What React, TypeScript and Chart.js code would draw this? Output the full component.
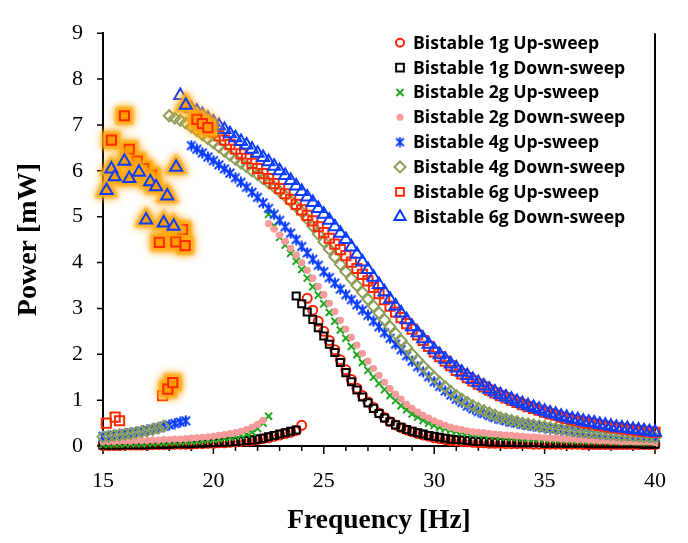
import React, { useEffect, useRef } from 'react';
import { Chart, registerables } from 'chart.js';
import { drawPoint } from 'chart.js/helpers';

Chart.register(...registerables);

const _ = null;

const SERIES_LABELS = [
  'Bistable 1g Up-sweep',
  'Bistable 1g Down-sweep',
  'Bistable 2g Up-sweep',
  'Bistable 2g Down-sweep',
  'Bistable 4g Up-sweep',
  'Bistable 4g Down-sweep',
  'Bistable 6g Up-sweep',
  'Bistable 6g Down-sweep',
];

const X_TICK_LABELS = [15, 20, 25, 30, 35, 40];
const Y_TICK_LABELS = [0, 1, 2, 3, 4, 5, 6, 7, 8, 9];

// Low-power branch frequencies (Hz)
const FREQ_LOW = [
  15, 15.25, 15.5, 15.75, 16, 16.25, 16.5, 16.75, 17, 17.25, 17.5, 17.75,
  18, 18.25, 18.5, 18.75, 19, 19.25, 19.5, 19.75, 20, 20.25, 20.5, 20.75,
  21, 21.25, 21.5, 21.75, 22, 22.25, 22.5, 22.75, 23, 23.25, 23.5, 23.75, 24,
];

// High-power branch frequencies (Hz)
const FREQ_HIGH = [
  18, 18.25, 18.5, 18.75, 19, 19.25, 19.5, 19.75, 20, 20.25, 20.5, 20.75,
  21, 21.25, 21.5, 21.75, 22, 22.25, 22.5, 22.75, 23, 23.25, 23.5, 23.75,
  24, 24.25, 24.5, 24.75, 25, 25.25, 25.5, 25.75, 26, 26.25, 26.5, 26.75,
  27, 27.25, 27.5, 27.75, 28, 28.25, 28.5, 28.75, 29, 29.25, 29.5, 29.75,
  30, 30.25, 30.5, 30.75, 31, 31.25, 31.5, 31.75, 32, 32.25, 32.5, 32.75,
  33, 33.25, 33.5, 33.75, 34, 34.25, 34.5, 34.75, 35, 35.25, 35.5, 35.75,
  36, 36.25, 36.5, 36.75, 37, 37.25, 37.5, 37.75, 38, 38.25, 38.5, 38.75,
  39, 39.25, 39.5, 39.75, 40,
];

// ---- Low branches (mW), aligned with FREQ_LOW
const P_1G_UP_LOW = [
  0.01, 0.01, 0.01, 0.01, 0.02, 0.02, 0.02, 0.02, 0.02, 0.03, 0.03, 0.03,
  0.03, 0.04, 0.04, 0.04, 0.04, 0.05, 0.05, 0.06, 0.06, 0.07, 0.07, 0.08,
  0.09, 0.1, 0.11, 0.12, 0.14, 0.16, 0.18, 0.21, 0.24, 0.27, 0.3, 0.34, 0.45,
];
const P_1G_DOWN_LOW = [
  0.02, 0.02, 0.02, 0.02, 0.03, 0.03, 0.03, 0.03, 0.03, 0.04, 0.04, 0.04,
  0.04, 0.05, 0.05, 0.05, 0.05, 0.06, 0.06, 0.07, 0.07, 0.08, 0.08, 0.09,
  0.1, 0.11, 0.12, 0.13, 0.15, 0.17, 0.2, 0.23, 0.26, 0.29, 0.32, 0.35, _,
];
const P_2G_UP_LOW = [
  0.03, 0.03, 0.04, 0.04, 0.04, 0.05, 0.05, 0.05, 0.06, 0.06, 0.07, 0.07,
  0.08, 0.08, 0.09, 0.1, 0.1, 0.11, 0.12, 0.13, 0.14, 0.15, 0.17, 0.19,
  0.21, 0.23, 0.26, 0.3, 0.38, 0.5, 0.65, _, _, _, _, _, _,
];
const P_2G_DOWN_LOW = [
  0.1, 0.1, 0.1, 0.11, 0.11, 0.11, 0.12, 0.12, 0.12, 0.13, 0.13, 0.14,
  0.14, 0.15, 0.15, 0.16, 0.17, 0.18, 0.19, 0.2, 0.21, 0.23, 0.25, 0.27,
  0.29, 0.32, 0.36, 0.41, 0.47, 0.56, _, _, _, _, _, _, _,
];
const P_4G_UP_LOW = [
  0.21, 0.22, 0.24, 0.25, 0.27, 0.29, 0.3, 0.32, 0.35, 0.37, 0.4, 0.43,
  0.46, 0.49, 0.52, 0.55, _, _, _, _, _, _, _, _,
  _, _, _, _, _, _, _, _, _, _, _, _, _,
];
const P_4G_DOWN_LOW = [
  0.2, 0.21, 0.23, 0.24, 0.26, 0.27, 0.29, 0.31, 0.33, 0.36, 0.39, 0.43,
  _, _, _, _, _, _, _, _, _, _, _, _,
  _, _, _, _, _, _, _, _, _, _, _, _, _,
];

// ---- High branches (mW), aligned with FREQ_HIGH
const P_1G_UP_HIGH = [
  _, _, _, _, _, _, _, _, _, _, _, _,
  _, _, _, _, _, _, _, _, _, _, _, _,
  _, 3.22, 2.96, 2.72, 2.5, 2.3, 2.1, 1.88, 1.66, 1.45, 1.26, 1.1,
  0.96, 0.84, 0.72, 0.62, 0.53, 0.46, 0.4, 0.35, 0.31, 0.27, 0.24, 0.21,
  0.18, 0.16, 0.14, 0.12, 0.11, 0.1, 0.09, 0.08, 0.07, 0.07, 0.06, 0.06,
  0.06, 0.05, 0.05, 0.05, 0.05, 0.05, 0.04, 0.04, 0.04, 0.04, 0.04, 0.04,
  0.04, 0.04, 0.04, 0.03, 0.03, 0.03, 0.03, 0.03, 0.03, 0.03, 0.03, 0.03,
  0.03, 0.03, 0.03, 0.03, 0.03,
];
const P_1G_DOWN_HIGH = [
  _, _, _, _, _, _, _, _, _, _, _, _,
  _, _, _, _, _, _, _, _, _, _, _, 3.27,
  3.1, 2.92, 2.76, 2.58, 2.4, 2.22, 2.04, 1.82, 1.6, 1.4, 1.22, 1.07,
  0.94, 0.82, 0.71, 0.61, 0.53, 0.46, 0.41, 0.36, 0.32, 0.29, 0.26, 0.23,
  0.21, 0.19, 0.17, 0.15, 0.14, 0.13, 0.12, 0.11, 0.1, 0.1, 0.09, 0.09,
  0.08, 0.08, 0.08, 0.07, 0.07, 0.07, 0.07, 0.07, 0.06, 0.06, 0.06, 0.06,
  0.06, 0.06, 0.06, 0.06, 0.05, 0.05, 0.05, 0.05, 0.05, 0.05, 0.05, 0.05,
  0.05, 0.05, 0.04, 0.04, 0.04,
];
const P_2G_UP_HIGH = [
  _, _, _, _, _, _, _, _, _, _, _, _,
  _, _, _, _, _, _, 5.05, 4.8, 4.55, 4.38, 4.2, 4.03,
  3.85, 3.66, 3.47, 3.29, 3.1, 2.91, 2.72, 2.53, 2.35, 2.17, 1.99, 1.82,
  1.65, 1.5, 1.36, 1.23, 1.1, 0.99, 0.88, 0.79, 0.7, 0.63, 0.56, 0.5,
  0.45, 0.41, 0.38, 0.35, 0.32, 0.3, 0.28, 0.26, 0.25, 0.24, 0.22, 0.21,
  0.2, 0.19, 0.18, 0.18, 0.17, 0.16, 0.16, 0.15, 0.15, 0.14, 0.14, 0.13,
  0.13, 0.12, 0.12, 0.11, 0.11, 0.11, 0.1, 0.1, 0.1, 0.09, 0.09, 0.09,
  0.09, 0.08, 0.08, 0.08, 0.08,
];
const P_2G_DOWN_HIGH = [
  _, _, _, _, _, _, _, _, _, _, _, _,
  _, _, _, _, _, _, 4.85, 4.73, 4.6, 4.46, 4.31, 4.16,
  4.0, 3.83, 3.66, 3.48, 3.3, 3.11, 2.93, 2.74, 2.55, 2.37, 2.2, 2.02,
  1.85, 1.69, 1.54, 1.39, 1.25, 1.13, 1.02, 0.91, 0.82, 0.74, 0.67, 0.61,
  0.55, 0.5, 0.45, 0.41, 0.38, 0.36, 0.33, 0.31, 0.3, 0.29, 0.27, 0.26,
  0.25, 0.24, 0.23, 0.22, 0.21, 0.2, 0.2, 0.19, 0.18, 0.17, 0.17, 0.16,
  0.15, 0.15, 0.14, 0.14, 0.13, 0.13, 0.12, 0.12, 0.11, 0.11, 0.1, 0.1,
  0.1, 0.09, 0.09, 0.09, 0.08,
];
const P_4G_UP_HIGH = [
  _, _, _, _, 6.55, 6.47, 6.39, 6.3, 6.22, 6.13, 6.04, 5.95,
  5.85, 5.75, 5.64, 5.53, 5.42, 5.3, 5.18, 5.05, 4.92, 4.78, 4.64, 4.5,
  4.35, 4.21, 4.07, 3.94, 3.8, 3.67, 3.55, 3.42, 3.3, 3.19, 3.08, 2.96,
  2.85, 2.72, 2.6, 2.47, 2.35, 2.22, 2.1, 1.97, 1.85, 1.73, 1.62, 1.51,
  1.4, 1.3, 1.2, 1.11, 1.02, 0.95, 0.87, 0.81, 0.75, 0.71, 0.66, 0.62,
  0.58, 0.55, 0.52, 0.5, 0.47, 0.45, 0.43, 0.42, 0.4, 0.38, 0.37, 0.35,
  0.34, 0.33, 0.31, 0.3, 0.29, 0.28, 0.27, 0.26, 0.25, 0.24, 0.23, 0.23,
  0.22, 0.21, 0.2, 0.2, 0.19,
];
const P_4G_DOWN_HIGH = [
  7.2, 7.15, 7.1, 7.04, 6.96, 6.88, 6.79, 6.7, 6.61, 6.52, 6.43, 6.34,
  6.25, 6.17, 6.09, 6.0, 5.92, 5.83, 5.74, 5.65, 5.55, 5.45, 5.34, 5.22,
  5.1, 4.95, 4.79, 4.62, 4.45, 4.29, 4.12, 3.96, 3.8, 3.65, 3.5, 3.35,
  3.2, 3.05, 2.9, 2.75, 2.6, 2.45, 2.3, 2.15, 2.0, 1.87, 1.74, 1.62,
  1.5, 1.39, 1.29, 1.19, 1.1, 1.02, 0.95, 0.88, 0.82, 0.77, 0.72, 0.67,
  0.62, 0.59, 0.56, 0.53, 0.5, 0.48, 0.46, 0.44, 0.42, 0.4, 0.38, 0.37,
  0.35, 0.34, 0.33, 0.31, 0.3, 0.29, 0.27, 0.26, 0.25, 0.24, 0.23, 0.23,
  0.22, 0.21, 0.2, 0.2, 0.19,
];
const P_6G_UP_HIGH = [
  _, _, _, _, _, _, _, _, 6.84, 6.76, 6.67, 6.57,
  6.47, 6.37, 6.27, 6.16, 6.05, 5.94, 5.83, 5.72, 5.61, 5.5, 5.38, 5.27,
  5.15, 5.03, 4.91, 4.78, 4.65, 4.53, 4.4, 4.28, 4.15, 4.01, 3.87, 3.74,
  3.6, 3.46, 3.32, 3.19, 3.05, 2.92, 2.8, 2.67, 2.55, 2.42, 2.3, 2.17,
  2.05, 1.95, 1.85, 1.75, 1.65, 1.57, 1.49, 1.42, 1.35, 1.29, 1.22, 1.16,
  1.1, 1.05, 1.0, 0.95, 0.9, 0.86, 0.82, 0.78, 0.74, 0.7, 0.67, 0.63,
  0.6, 0.57, 0.55, 0.52, 0.5, 0.48, 0.45, 0.43, 0.41, 0.4, 0.38, 0.36,
  0.35, 0.33, 0.32, 0.31, 0.3,
];
const P_6G_DOWN_HIGH = [
  _, _, 7.64, _, 7.36, 7.3, 7.22, 7.14, 7.06, 6.98, 6.9, 6.81,
  6.72, 6.64, 6.56, 6.47, 6.38, 6.29, 6.2, 6.1, 6.0, 5.9, 5.79, 5.67,
  5.55, 5.43, 5.31, 5.18, 5.05, 4.92, 4.78, 4.64, 4.5, 4.34, 4.18, 4.01,
  3.85, 3.68, 3.52, 3.36, 3.2, 3.05, 2.9, 2.75, 2.6, 2.47, 2.34, 2.22,
  2.1, 1.99, 1.89, 1.79, 1.7, 1.61, 1.53, 1.45, 1.38, 1.31, 1.24, 1.18,
  1.12, 1.07, 1.02, 0.97, 0.92, 0.88, 0.84, 0.8, 0.76, 0.72, 0.69, 0.65,
  0.62, 0.59, 0.57, 0.54, 0.52, 0.5, 0.47, 0.45, 0.43, 0.41, 0.39, 0.38,
  0.36, 0.35, 0.33, 0.31, 0.3,
];

// ---- Scattered 6g points
const F_6G_UP_EXTRA = [15.15, 15.55, 15.75, 17.7];
const P_6G_UP_EXTRA = [0.5, 0.63, 0.55, 1.1];

const F_6G_UP_GLOW = [15.38, 15.97, 16.19, 16.55, 16.85, 17.2, 17.55, 18.3, 18.6, 18.72, 17.94, 18.16, 19.25, 19.5, 19.75];
const P_6G_UP_GLOW = [6.67, 7.2, 6.47, 6.21, 6.05, 5.9, 4.44, 4.45, 4.72, 4.37, 1.24, 1.38, 7.12, 7.03, 6.94];

const F_6G_DOWN_GLOW = [15.16, 15.38, 15.53, 15.97, 16.19, 16.63, 16.95, 17.14, 17.4, 17.75, 17.91, 18.2, 18.31, 18.75];
const P_6G_DOWN_GLOW = [5.57, 6.04, 5.87, 6.21, 5.83, 5.97, 4.93, 5.76, 5.65, 4.86, 5.45, 4.79, 6.08, 7.43];

const C_RED = '#FF2200';
const C_BLACK = '#000000';
const C_GREEN = '#1EA81E';
const C_PINK = '#F79A9A';
const C_BLUE = '#0A3CFF';
const C_OLIVE = '#8C9F58';
const C_RED2 = '#FF2A00';
const C_ORANGE = '#FF9D00';
const C_HALO = 'rgba(255,170,20,0.85)';
const NONE = 'rgba(0,0,0,0)';

function pts(fs: number[], ps: (number | null)[]) {
  const out: { x: number; y: number }[] = [];
  for (let i = 0; i < fs.length; i++) {
    const p = ps[i];
    if (p !== null && p !== undefined) out.push({ x: fs[i], y: p });
  }
  return out;
}

function makeAsterisk(size: number, color: string, lw: number) {
  const c = document.createElement('canvas');
  c.width = size;
  c.height = size;
  const g = c.getContext('2d')!;
  g.strokeStyle = color;
  g.lineWidth = lw;
  const m = size / 2;
  const r = size / 2 - 0.5;
  const d = r * 0.78;
  g.beginPath();
  g.moveTo(m, m - r);
  g.lineTo(m, m + r);
  g.moveTo(m - d, m - d);
  g.lineTo(m + d, m + d);
  g.moveTo(m - d, m + d);
  g.lineTo(m + d, m - d);
  g.stroke();
  return c;
}

const SERIF = '"Liberation Serif", "Times New Roman", serif';

export default function App() {
  const ref = useRef<HTMLCanvasElement>(null);

  useEffect(() => {
    document.body.style.margin = '0';
    const canvas = ref.current!;
    const star = makeAsterisk(12, C_BLUE, 2);
    const starLegend = makeAsterisk(11, C_BLUE, 2);

    const base = { showLine: false, clip: false as any };
    const upGlow = pts(F_6G_UP_GLOW, P_6G_UP_GLOW);
    const downGlow = pts(F_6G_DOWN_GLOW, P_6G_DOWN_GLOW);
    const datasets: any[] = [
      { ...base, label: SERIES_LABELS[0], data: [...pts(FREQ_LOW, P_1G_UP_LOW), ...pts(FREQ_HIGH, P_1G_UP_HIGH)],
        pointStyle: 'circle', pointRadius: 4.5, pointBorderWidth: 2, pointBorderColor: C_RED, pointBackgroundColor: NONE,
        borderColor: C_RED, backgroundColor: NONE, legendR: 4, order: 18 },
      { ...base, label: SERIES_LABELS[1], data: [...pts(FREQ_LOW, P_1G_DOWN_LOW), ...pts(FREQ_HIGH, P_1G_DOWN_HIGH)],
        pointStyle: 'rect', pointRadius: 5, pointBorderWidth: 2, pointBorderColor: C_BLACK, pointBackgroundColor: NONE,
        borderColor: C_BLACK, backgroundColor: NONE, legendR: 5.5, order: 17 },
      { ...base, label: SERIES_LABELS[2], data: [...pts(FREQ_LOW, P_2G_UP_LOW), ...pts(FREQ_HIGH, P_2G_UP_HIGH)],
        pointStyle: 'crossRot', pointRadius: 5, pointBorderWidth: 2, pointBorderColor: C_GREEN, pointBackgroundColor: NONE,
        borderColor: C_GREEN, backgroundColor: NONE, legendR: 5, order: 16 },
      { ...base, label: SERIES_LABELS[3], data: [...pts(FREQ_LOW, P_2G_DOWN_LOW), ...pts(FREQ_HIGH, P_2G_DOWN_HIGH)],
        pointStyle: 'circle', pointRadius: 3.6, pointBorderWidth: 0, pointBorderColor: C_PINK, pointBackgroundColor: C_PINK,
        borderColor: C_PINK, backgroundColor: C_PINK, legendR: 3.6, order: 15 },
      { ...base, label: SERIES_LABELS[4], data: [...pts(FREQ_LOW, P_4G_UP_LOW), ...pts(FREQ_HIGH, P_4G_UP_HIGH)],
        pointStyle: star, pointRadius: 6, pointBorderWidth: 2, pointBorderColor: C_BLUE, pointBackgroundColor: NONE,
        borderColor: C_BLUE, backgroundColor: NONE, legendStyle: starLegend, legendR: 5, order: 14 },
      { ...base, label: SERIES_LABELS[5], data: [...pts(FREQ_LOW, P_4G_DOWN_LOW), ...pts(FREQ_HIGH, P_4G_DOWN_HIGH)],
        pointStyle: 'rectRot', pointRadius: 5.5, pointBorderWidth: 2, pointBorderColor: C_OLIVE, pointBackgroundColor: NONE,
        borderColor: C_OLIVE, backgroundColor: NONE, legendR: 5.5, order: 13 },
      { ...base, label: SERIES_LABELS[6], data: [...pts(F_6G_UP_EXTRA, P_6G_UP_EXTRA), ...pts(FREQ_HIGH, P_6G_UP_HIGH)],
        pointStyle: 'rect', pointRadius: 6.5, pointBorderWidth: 2, pointBorderColor: C_RED2, pointBackgroundColor: NONE,
        borderColor: C_RED2, backgroundColor: NONE, legendR: 5.5, order: 12 },
      { ...base, label: SERIES_LABELS[7], data: pts(FREQ_HIGH, P_6G_DOWN_HIGH),
        pointStyle: 'triangle', pointRadius: 7, pointBorderWidth: 2, pointBorderColor: C_BLUE, pointBackgroundColor: NONE,
        borderColor: C_BLUE, backgroundColor: NONE, legendR: 6.5, order: 11 },
      // orange halos behind the highlighted points
      { ...base, label: 'halo-6g-up', halo: true, data: upGlow,
        pointStyle: 'rect', pointRadius: 10, pointBorderWidth: 4, pointBorderColor: C_HALO, pointBackgroundColor: C_HALO,
        borderColor: C_HALO, backgroundColor: C_HALO, order: 10.5 },
      { ...base, label: 'glow-6g-up', data: upGlow,
        pointStyle: 'rect', pointRadius: 6.5, pointBorderWidth: 2, pointBorderColor: C_RED2, pointBackgroundColor: C_ORANGE,
        borderColor: C_RED2, backgroundColor: C_ORANGE, order: 10 },
      { ...base, label: 'halo-6g-down', halo: true, data: downGlow,
        pointStyle: 'triangle', pointRadius: 10.5, pointBorderWidth: 4, pointBorderColor: C_HALO, pointBackgroundColor: C_HALO,
        borderColor: C_HALO, backgroundColor: C_HALO, order: 9.5 },
      { ...base, label: 'glow-6g-down', data: downGlow,
        pointStyle: 'triangle', pointRadius: 7, pointBorderWidth: 2, pointBorderColor: C_BLUE, pointBackgroundColor: C_ORANGE,
        borderColor: C_BLUE, backgroundColor: C_ORANGE, order: 9 },
    ];

    const glowPlugin = {
      id: 'glow',
      beforeDatasetDraw(chart: any, args: any) {
        const ds = chart.data.datasets[args.index];
        if (ds.halo) {
          chart.ctx.save();
          chart.ctx.shadowColor = 'rgba(255,160,0,1)';
          chart.ctx.shadowBlur = 9;
          chart.ctx.filter = 'blur(1.5px)';
        }
      },
      afterDatasetDraw(chart: any, args: any) {
        const ds = chart.data.datasets[args.index];
        if (ds.halo) chart.ctx.restore();
      },
    };

    const axisDecor = {
      id: 'axisDecor',
      beforeDatasetsDraw(chart: any) {
        const { ctx, chartArea: a, scales } = chart;
        ctx.save();
        ctx.strokeStyle = '#000';
        ctx.lineWidth = 1.5;
        ctx.beginPath();
        for (const t of scales.x.ticks) {
          const px = scales.x.getPixelForValue(t.value);
          const len = X_TICK_LABELS.includes(t.value) ? 8 : 5;
          ctx.moveTo(px, a.bottom);
          ctx.lineTo(px, a.bottom + len);
        }
        for (const t of scales.y.ticks) {
          const py = scales.y.getPixelForValue(t.value);
          ctx.moveTo(a.left - 6, py);
          ctx.lineTo(a.left, py);
        }
        ctx.stroke();
        ctx.lineWidth = 2;
        ctx.beginPath();
        ctx.moveTo(a.right, a.top);
        ctx.lineTo(a.right, a.bottom);
        ctx.stroke();
        ctx.restore();
      },
    };

    const legendPlugin = {
      id: 'insideLegend',
      afterDraw(chart: any) {
        const ctx = chart.ctx;
        ctx.save();
        ctx.font = 'bold 17.6px "Open Sans", "Liberation Sans", sans-serif';
        ctx.textBaseline = 'middle';
        ctx.textAlign = 'left';
        SERIES_LABELS.forEach((label, i) => {
          const ds = chart.data.datasets[i];
          const y = 42.7 + i * 24.85;
          ctx.strokeStyle = ds.pointBorderColor;
          ctx.fillStyle = ds.pointBackgroundColor;
          ctx.lineWidth = 2;
          drawPoint(ctx, {
            pointStyle: ds.legendStyle || ds.pointStyle,
            radius: ds.legendR,
            rotation: 0,
            borderWidth: ds.pointBorderWidth,
          } as any, 400, y);
          ctx.fillStyle = '#000';
          ctx.fillText(label, 413, y + 1);
        });
        ctx.restore();
      },
    };

    const chart = new Chart(canvas, {
      type: 'scatter',
      data: { datasets },
      plugins: [glowPlugin, axisDecor, legendPlugin],
      options: {
        animation: false,
        responsive: false,
        maintainAspectRatio: false,
        devicePixelRatio: 1,
        events: [],
        layout: { padding: { top: 15, right: 16, left: 0, bottom: 0 } },
        plugins: { legend: { display: false }, tooltip: { enabled: false } },
        scales: {
          x: {
            type: 'linear',
            min: 15,
            max: 40,
            afterFit: (s: any) => { s.height = 97; },
            ticks: {
              stepSize: 1,
              autoSkip: false,
              maxRotation: 0,
              padding: 22,
              color: '#000',
              font: { family: SERIF, size: 22 },
              callback: (v: any) => (X_TICK_LABELS.includes(Number(v)) ? String(v) : ''),
            },
            grid: { display: false, drawTicks: false },
            border: { display: true, color: '#000', width: 2 },
            title: {
              display: true,
              text: 'Frequency [Hz]',
              color: '#000',
              font: { family: SERIF, size: 27.5, weight: 'bold' },
              padding: { top: 0, bottom: 6 },
            },
          },
          y: {
            type: 'linear',
            min: 0,
            max: 9,
            afterFit: (s: any) => { s.width = 103; },
            ticks: {
              stepSize: 1,
              padding: 20,
              color: '#000',
              font: { family: SERIF, size: 22 },
              callback: (v: any) => (Y_TICK_LABELS.includes(Number(v)) ? String(v) : ''),
            },
            grid: { display: false, drawTicks: false },
            border: { display: true, color: '#000', width: 2 },
            title: {
              display: true,
              text: 'Power [mW]',
              color: '#000',
              font: { family: SERIF, size: 28, weight: 'bold' },
              padding: { top: 12, bottom: 0 },
            },
          },
        },
      } as any,
    });

    return () => chart.destroy();
  }, []);

  return <canvas ref={ref} width={688} height={543} style={{ display: 'block', width: 688, height: 543 }} />;
}
